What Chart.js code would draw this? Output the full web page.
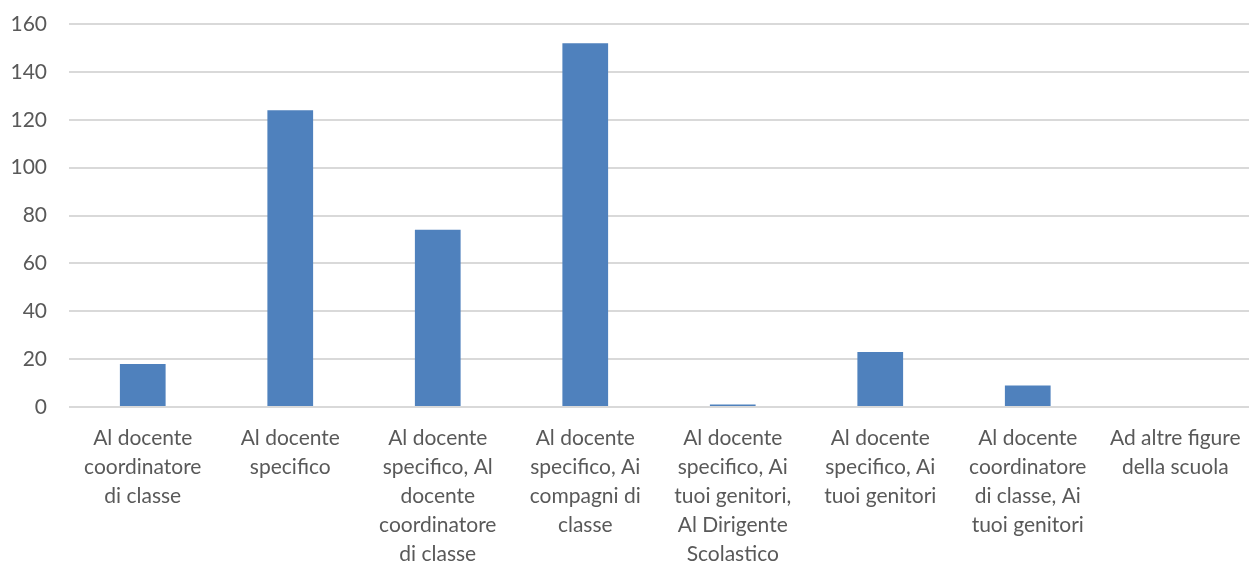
<!DOCTYPE html>
<html>
<head>
<meta charset="utf-8">
<script src="https://cdn.jsdelivr.net/npm/chart.js@4"></script>
<style>
  html, body { margin: 0; padding: 0; background: #fff; }
  #wrap { width: 1249px; height: 565px; }
</style>
</head>
<body>
<div id="wrap"><canvas id="chartContainer"></canvas></div>
<script>
const categories = [
  ['Al docente', 'coordinatore', 'di classe'],
  ['Al docente', 'specifico'],
  ['Al docente', 'specifico, Al', 'docente', 'coordinatore', 'di classe'],
  ['Al docente', 'specifico, Ai', 'compagni di', 'classe'],
  ['Al docente', 'specifico, Ai', 'tuoi genitori,', 'Al Dirigente', 'Scolastico'],
  ['Al docente', 'specifico, Ai', 'tuoi genitori'],
  ['Al docente', 'coordinatore', 'di classe, Ai', 'tuoi genitori'],
  ['Ad altre figure', 'della scuola']
]
const counts = [18, 124, 74, 152, 1, 23, 9, 0]
const yTicks = [0, 20, 40, 60, 80, 100, 120, 140, 160]

Chart.defaults.font.family = 'Lato, sans-serif'
Chart.defaults.font.size = 21
Chart.defaults.color = '#595959'

new Chart(document.getElementById('chartContainer'), {
  type: 'bar',
  data: {
    labels: categories,
    datasets: [{
      label: '',
      data: counts,
      backgroundColor: '#4F81BD',
    }]
  },
  options: {
    responsive: true,
    maintainAspectRatio: false,
    animation: false,
    barPercentage: 0.31,
    categoryPercentage: 1,
    layout: {
      padding: { top: 24, right: 0, left: 0, bottom: 0 }
    },
    plugins: {
      legend: { display: false },
      tooltip: { enabled: false }
    },
    scales: {
      x: {
        grid: { display: false },
        border: { color: '#D9D9D9' },
        afterFit: (scale) => {
          scale.height = 158
          scale.paddingLeft = 0
          scale.paddingRight = 0
        },
        ticks: {
          padding: 9,
          maxRotation: 0,
          autoSkip: false,
          font: { lineHeight: 1.38 }
        }
      },
      y: {
        min: 0,
        max: 160,
        afterBuildTicks: (axis) => { axis.ticks = yTicks.map(v => ({ value: v })) },
        afterFit: (scale) => {
          scale.width = 69
          scale.paddingTop = 0
          scale.paddingBottom = 0
        },
        grid: { color: '#D9D9D9', lineWidth: 2, drawTicks: false },
        border: { display: false },
        ticks: { padding: 22 }
      }
    }
  }
});
</script>
</body>
</html>
